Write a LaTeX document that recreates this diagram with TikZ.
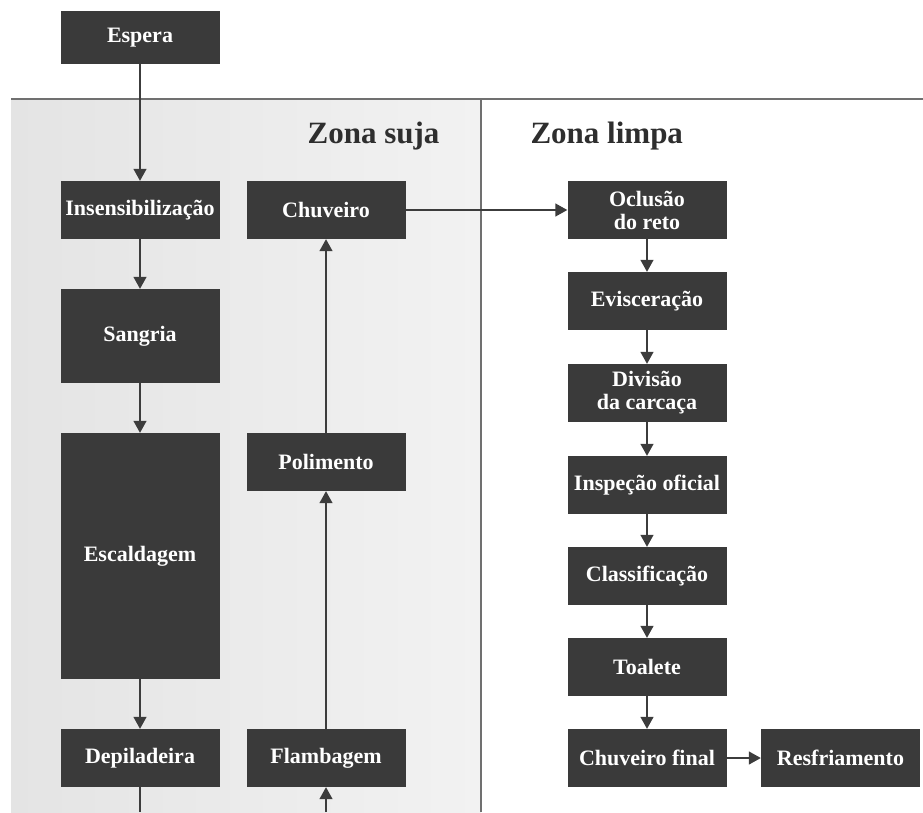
\documentclass[tikz,border=0pt]{standalone}
\usepackage{fontspec}
\setmainfont{Liberation Serif}
\usetikzlibrary{arrows.meta}
\definecolor{boxColor}{HTML}{3A3A3A}
\definecolor{lineColor}{HTML}{3C3C3C}
\definecolor{ruleColor}{HTML}{707070}
\definecolor{dirtyLeft}{HTML}{E4E4E4}
\definecolor{dirtyRight}{HTML}{F2F2F2}
\definecolor{titleColor}{HTML}{2E2E2E}

\begin{document}
\begin{tikzpicture}[x=1pt, y=-1pt,
    stage/.style={fill=boxColor, text=white, font=\bfseries\fontsize{22}{23}\selectfont,
        minimum width=159pt, minimum height=58pt, inner sep=0pt, align=center},
    flow/.style={lineColor, line width=1.4pt, -{Triangle[width=13pt,length=12pt]}},
    plain/.style={lineColor, line width=1.4pt},
    zone/.style={font=\bfseries\fontsize{31}{34}\selectfont, text=titleColor}]
    \useasboundingbox (0,0) rectangle (923,812);

    % zones
    \shade[left color=dirtyLeft, right color=dirtyRight] (11,99) rectangle (481,812);
    \draw[ruleColor, line width=2pt] (11,99) -- (923,99);
    \draw[ruleColor, line width=2pt] (481,99) -- (481,812);
    \node[zone, anchor=base east] (suja) at (443,143) {Zona suja};
    \node[zone, anchor=base west] (limpa) at (527,143) {Zona limpa};

    % left column
    \node[stage, minimum height=53pt] (espera) at (140,37.5) {Espera};
    \node[stage] (insens) at (140,210) {Insensibilização};
    \node[stage, minimum height=94pt] (sangria) at (140,336) {Sangria};
    \node[stage, minimum height=246pt] (escald) at (140,556) {Escaldagem};
    \node[stage] (depil) at (140,758) {Depiladeira};
    \coordinate (depilOut) at (140,812);

    % middle column
    \coordinate (flambIn) at (326,812);
    \node[stage] (flamb) at (326,758) {Flambagem};
    \node[stage] (polim) at (326,462) {Polimento};
    \node[stage] (chuv) at (326,210) {Chuveiro};

    % right column
    \node[stage] (oclusao) at (647,210) {Oclusão\\do reto};
    \node[stage] (evisc) at (647,301) {Evisceração};
    \node[stage] (divisao) at (647,393) {Divisão\\da carcaça};
    \node[stage] (inspecao) at (647,485) {Inspeção oficial};
    \node[stage] (classif) at (647,576) {Classificação};
    \node[stage] (toalete) at (647,667) {Toalete};
    \node[stage] (chuvFinal) at (647,758) {Chuveiro final};
    \node[stage] (resfr) at (840.5,758) {Resfriamento};

    \draw[flow] (espera) -- (insens);
    \draw[flow] (insens) -- (sangria);
    \draw[flow] (sangria) -- (escald);
    \draw[flow] (escald) -- (depil);
    \draw[plain] (depil) -- (depilOut);
    \draw[flow] (flambIn) -- (flamb);
    \draw[flow] (flamb) -- (polim);
    \draw[flow] (polim) -- (chuv);
    \draw[flow] (chuv) -- (oclusao);
    \draw[flow] (oclusao) -- (evisc);
    \draw[flow] (evisc) -- (divisao);
    \draw[flow] (divisao) -- (inspecao);
    \draw[flow] (inspecao) -- (classif);
    \draw[flow] (classif) -- (toalete);
    \draw[flow] (toalete) -- (chuvFinal);
    \draw[flow] (chuvFinal) -- (resfr);
\end{tikzpicture}
\end{document}
